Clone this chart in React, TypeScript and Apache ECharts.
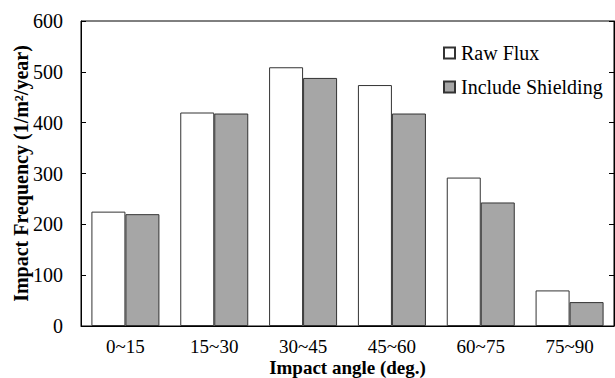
import React, { useEffect, useRef } from "react";
import * as echarts from "echarts";

const categories = ["0~15", "15~30", "30~45", "45~60", "60~75", "75~90"];
const rawFlux = [225, 420, 509, 474, 292, 70];
const includeShielding = [220, 418, 488, 418, 243, 47];
const seriesNames = ["Raw Flux", "Include Shielding"];

const FONT = "Liberation Serif";

export default function App() {
  const ref = useRef<HTMLDivElement>(null);
  useEffect(() => {
    document.body.style.margin = "0";
    const chart = echarts.init(ref.current!, null, { renderer: "svg" });
    chart.setOption({
      animation: false,
      textStyle: { fontFamily: FONT, color: "#000" },
      grid: {
        left: 81,
        right: 1,
        top: 21,
        bottom: 52,
        show: true,
        borderColor: "#000",
        borderWidth: 1,
        containLabel: false,
        outerBoundsMode: "none",
      },
      legend: {
        orient: "vertical",
        left: 438,
        top: 38,
        itemWidth: 11,
        itemHeight: 11,
        itemGap: 14,
        icon: "rect",
        textStyle: { fontFamily: FONT, fontSize: 20, color: "#000", padding: [0, 0, 0, 1] },
        data: seriesNames,
      },
      xAxis: {
        type: "category",
        data: categories,
        axisLine: { lineStyle: { color: "#000", width: 1 } },
        axisTick: { show: false },
        axisLabel: { fontFamily: FONT, fontSize: 19, color: "#000", margin: 11 },
        name: "Impact angle (deg.)",
        nameLocation: "middle",
        nameGap: 32,
        nameMoveOverlap: false,
        nameTextStyle: { fontFamily: FONT, fontSize: 19, fontWeight: "bold", color: "#000" },
      },
      yAxis: [
        {
          type: "value",
          min: 0,
          max: 600,
          interval: 100,
          splitLine: { show: false },
          axisLine: { show: true, lineStyle: { color: "#000", width: 1 } },
          axisTick: { show: true, inside: true, length: 5, lineStyle: { color: "#000" } },
          axisLabel: { fontFamily: FONT, fontSize: 20, color: "#000", margin: 18 },
          name: "Impact Frequency (1/m²/year)",
          nameLocation: "middle",
          nameGap: 50,
          nameMoveOverlap: false,
          nameTextStyle: { fontFamily: FONT, fontSize: 20, fontWeight: "bold", color: "#000" },
        },
        {
          type: "value",
          position: "right",
          min: 0,
          max: 600,
          interval: 100,
          splitLine: { show: false },
          axisLine: { show: true, lineStyle: { color: "#000", width: 1 } },
          axisTick: { show: true, inside: true, length: 5, lineStyle: { color: "#000" } },
          axisLabel: { show: false },
        },
      ],
      series: [
        {
          name: seriesNames[0],
          type: "bar",
          data: rawFlux,
          barWidth: 34,
          barGap: "0%",
          itemStyle: { color: "#ffffff", borderColor: "#333", borderWidth: 1 },
        },
        {
          name: seriesNames[1],
          type: "bar",
          data: includeShielding,
          barWidth: 34,
          barGap: "0%",
          itemStyle: { color: "#a6a6a6", borderColor: "#333", borderWidth: 1 },
        },
      ],
    });
    return () => chart.dispose();
  }, []);
  return <div ref={ref} style={{ width: 615, height: 378 }} />;
}
